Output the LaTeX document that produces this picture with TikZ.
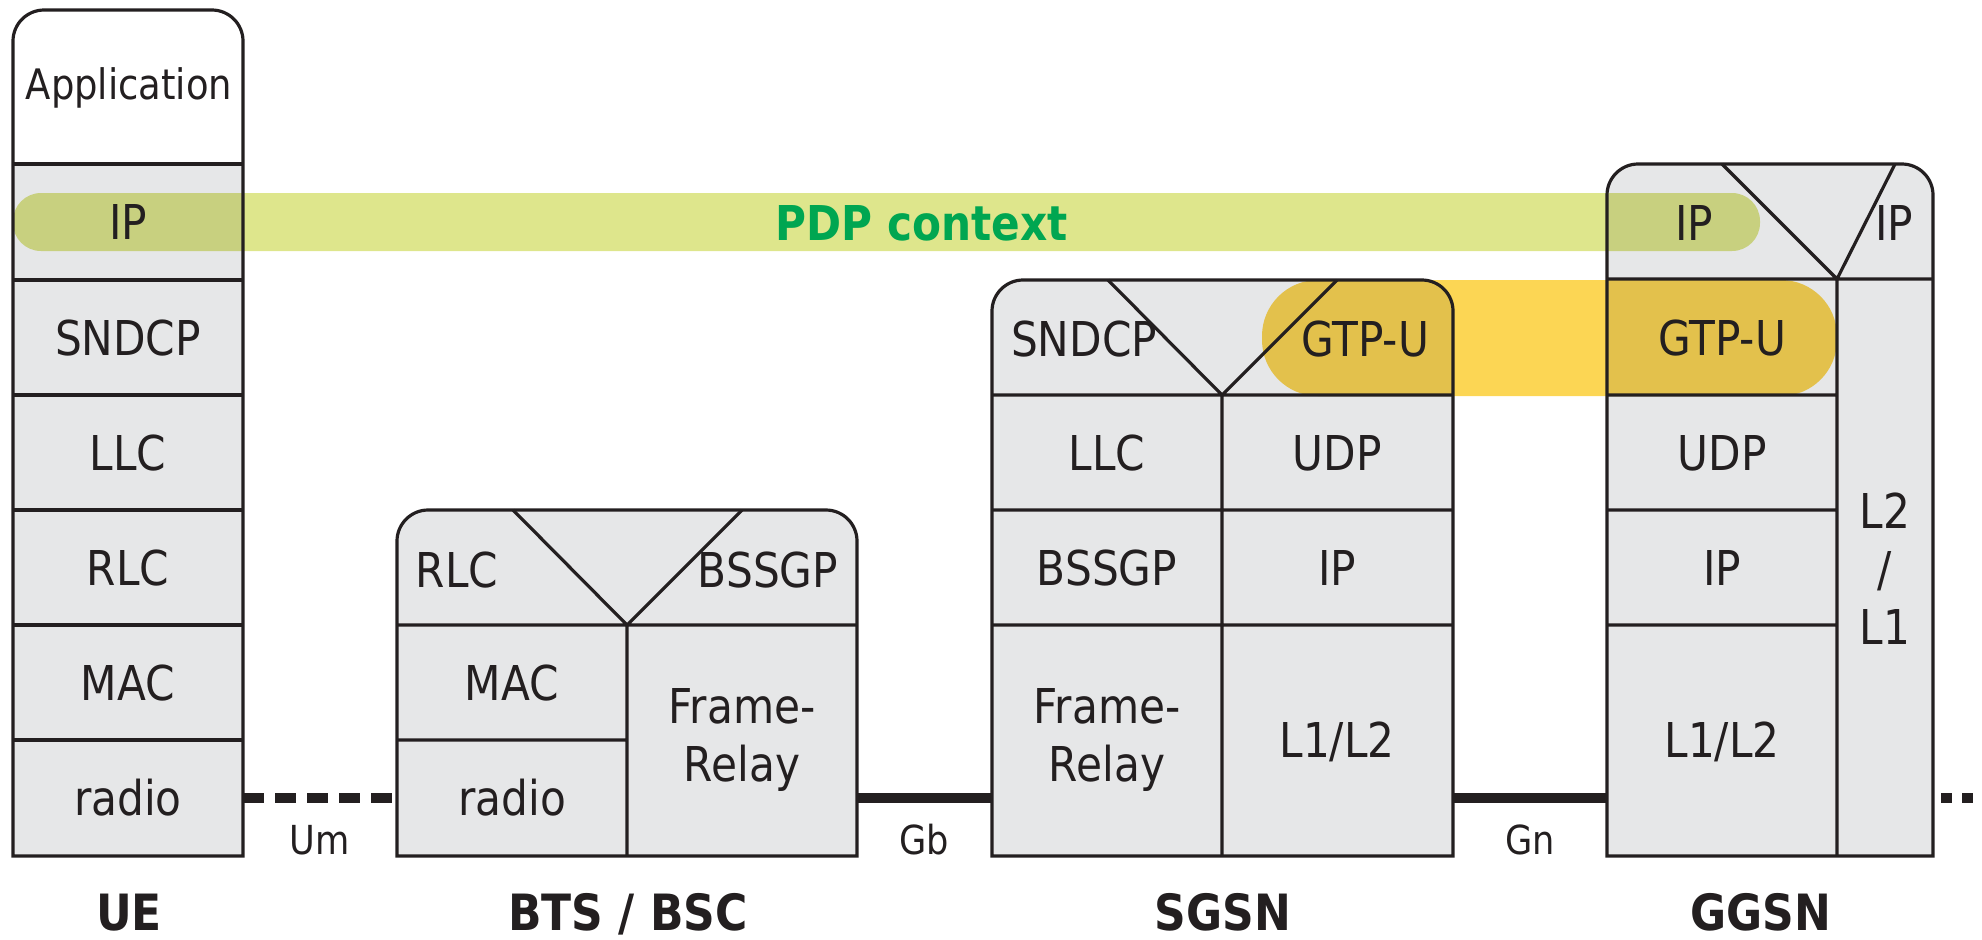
\documentclass[tikz,border=0pt]{standalone}
\usepackage{fontspec}
\setmainfont{DejaVu Sans}[FakeStretch=0.88]
\definecolor{ink}{RGB}{35,31,32}
\definecolor{cell}{RGB}{230,231,232}
\definecolor{pdpband}{RGB}{222,230,140}
\definecolor{gtpband}{RGB}{252,214,84}
\definecolor{pdptext}{RGB}{0,166,81}
\tikzset{
  capbox/.style n args={4}{insert path={(#1,#4) -- (#1,#2+31) .. controls (#1,#2+14) and (#1+14,#2) .. (#1+31,#2) -- (#3-31,#2) .. controls (#3-14,#2) and (#3,#2+14) .. (#3,#2+31) -- (#3,#4) -- cycle}},
  stackline/.style={draw=ink, line width=1.6pt},
  lay/.style={inner sep=0pt, text height=17.5pt, text depth=0pt, text=ink, font=\fontsize{24}{29}\selectfont},
  laym/.style={inner sep=0pt, anchor=north, align=center, text=ink, font=\fontsize{24}{29}\selectfont},
  app/.style={inner sep=0pt, text height=15.3pt, text depth=0pt, text=ink, font=\fontsize{21}{25}\selectfont},
  iface/.style={inner sep=0pt, text height=14.6pt, text depth=0pt, text=ink, font=\fontsize{20}{24}\selectfont},
  entity/.style={inner sep=0pt, text height=18.2pt, text depth=0pt, text=ink, font=\fontsize{25}{30}\selectfont\bfseries},
  pdp/.style={inner sep=0pt, text height=17.5pt, text depth=0pt, text=pdptext, font=\fontsize{24}{29}\selectfont\bfseries},
  link/.style={draw=ink, line width=5pt},
}
\begin{document}
\begin{tikzpicture}[x=0.5pt,y=-0.5pt]
\useasboundingbox (0,0) rectangle (1982,939);
% ---- fills
\fill[white, capbox={13}{10}{243}{856}];
\fill[cell] (13,164) rectangle (243,856);
\fill[cell, capbox={397}{510}{857}{856}];
\fill[cell, capbox={992}{280}{1453}{856}];
\fill[cell, capbox={1607}{164}{1933}{856}];
% ---- bands
\begin{scope}[blend mode=multiply]
  \fill[pdpband, rounded corners=14pt] (13,193) rectangle (1760,251);
  \fill[gtpband, rounded corners=28pt] (1262,280) rectangle (1837,396);
\end{scope}
% ---- UE outline
\draw[stackline, capbox={13}{10}{243}{856}];
\draw[stackline] (13,164) -- (243,164) (13,280) -- (243,280) (13,395) -- (243,395)
  (13,510) -- (243,510) (13,625) -- (243,625) (13,740) -- (243,740);
% ---- BTS / BSC outline
\draw[stackline, capbox={397}{510}{857}{856}];
\draw[stackline] (397,625) -- (857,625) (627,625) -- (627,856) (397,740) -- (627,740)
  (513,510) -- (627,625) -- (742,510);
% ---- SGSN outline
\draw[stackline, capbox={992}{280}{1453}{856}];
\draw[stackline] (992,395) -- (1453,395) (1222,395) -- (1222,856)
  (992,510) -- (1453,510) (992,625) -- (1453,625)
  (1108,280) -- (1222,395) -- (1337,280);
% ---- GGSN outline
\draw[stackline, capbox={1607}{164}{1933}{856}];
\draw[stackline] (1607,279) -- (1933,279) (1837,279) -- (1837,856)
  (1607,395) -- (1837,395) (1607,510) -- (1837,510) (1607,625) -- (1837,625)
  (1722,164) -- (1837,279) -- (1895,164);
% ---- ports and links
\coordinate (ue-port) at (243,798);
\coordinate (bts-portl) at (397,798);
\coordinate (bts-portr) at (857,798);
\coordinate (sgsn-portl) at (992,798);
\coordinate (sgsn-portr) at (1453,798);
\coordinate (ggsn-portl) at (1607,798);
\coordinate (ggsn-portr) at (1933,798);
\coordinate (beyond) at (1982,798);
\draw[link, dash pattern=on 10.5pt off 5.5pt] (ue-port) -- (bts-portl);
\draw[link] (bts-portr) -- (sgsn-portl);
\draw[link] (sgsn-portr) -- (ggsn-portl);
\draw[link, dash pattern=on 5.5pt off 5pt, dash phase=6.5pt] (ggsn-portr) -- (beyond);
% ---- UE texts
\node[app] (ue-app) at (129,84) {Application};
\node[lay] (ue-ip) at (128,222) {IP};
\node[lay] (ue-sndcp) at (128,337.5) {SNDCP};
\node[lay] (ue-llc) at (128,452.5) {LLC};
\node[lay] (ue-rlc) at (128,567.5) {RLC};
\node[lay] (ue-mac) at (128,682.5) {MAC};
\node[lay] (ue-radio) at (128,798) {radio};
% ---- BTS texts
\node[lay] (bts-rlc) at (457,570) {RLC};
\node[lay] (bts-bssgp) at (768,570) {BSSGP};
\node[lay] (bts-mac) at (512,682.5) {MAC};
\node[lay] (bts-radio) at (512,798) {radio};
\node[laym] (bts-fr) at (742,688) {Frame-\\Relay};
% ---- SGSN texts
\node[lay] (sgsn-sndcp) at (1084,339) {SNDCP};
\node[lay] (sgsn-gtpu) at (1365,339) {GTP-U};
\node[lay] (sgsn-llc) at (1107,452.5) {LLC};
\node[lay] (sgsn-udp) at (1337,452.5) {UDP};
\node[lay] (sgsn-bssgp) at (1107,567.5) {BSSGP};
\node[lay] (sgsn-ip) at (1337,567.5) {IP};
\node[laym] (sgsn-fr) at (1107,688) {Frame-\\Relay};
\node[lay] (sgsn-l1l2) at (1337,740) {L1/L2};
% ---- GGSN texts
\node[lay] (ggsn-ipa) at (1694,222.5) {IP};
\node[lay] (ggsn-ipb) at (1894,222.5) {IP};
\node[lay] (ggsn-gtpu) at (1722,337.5) {GTP-U};
\node[lay] (ggsn-udp) at (1722,452.5) {UDP};
\node[lay] (ggsn-ip) at (1722,567.5) {IP};
\node[lay] (ggsn-l1l2) at (1722,740) {L1/L2};
\node[laym] (ggsn-l2l1) at (1885,492) {L2\\/\\L1};
% ---- band label, interfaces, entities
\node[pdp] (pdp) at (922,223) {PDP context};
\node[iface] (um) at (320,840) {Um};
\node[iface] (gb) at (924,840) {Gb};
\node[iface] (gn) at (1530,840) {Gn};
\node[entity] (ue) at (129,912) {UE};
\node[entity] (bts) at (628,912) {BTS / BSC};
\node[entity] (sgsn) at (1223,912) {SGSN};
\node[entity] (ggsn) at (1761,912) {GGSN};
\end{tikzpicture}
\end{document}
